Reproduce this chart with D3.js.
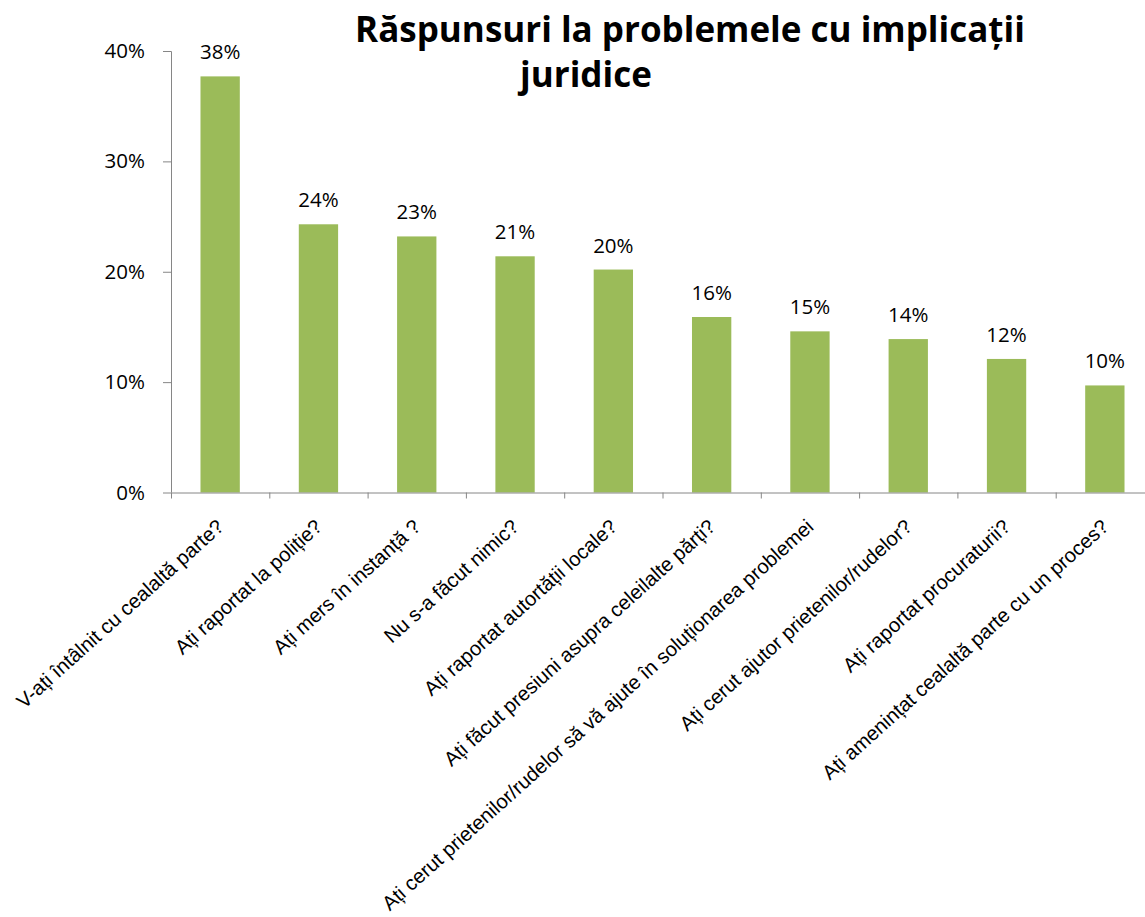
<!DOCTYPE html>
<html>
<head>
<meta charset="utf-8">
<script src="https://cdn.jsdelivr.net/npm/d3@7"></script>
<style>
  body { margin: 0; background: #fff; }
  .axis path, .axis line { stroke: #868686; }
</style>
</head>
<body>
<div id="chart"></div>
<script>
// Data
const categories = [
  "V-ați întâlnit cu cealaltă parte?",
  "Ați raportat la poliție?",
  "Ați mers în instanță ?",
  "Nu s-a făcut nimic?",
  "Ați raportat autortății locale?",
  "Ați făcut presiuni asupra celeilalte părți?",
  "Ați cerut prietenilor/rudelor să vă ajute în soluționarea problemei",
  "Ați cerut ajutor prietenilor/rudelor?",
  "Ați raportat procuraturii?",
  "Ați amenințat cealaltă parte cu un proces?"
];
const values = [37.7, 24.3, 23.2, 21.4, 20.2, 15.9, 14.6, 13.9, 12.1, 9.7];
const valueLabels = ["38%", "24%", "23%", "21%", "20%", "16%", "15%", "14%", "12%", "10%"];
const yTicks = [0, 10, 20, 30, 40];
const titleLines = ["Răspunsuri la problemele cu implicații", "juridice"];

const W = 1145, H = 917;
const margin = { top: 51, left: 171 };
const plotH = 441.5;
const plotW = 983;

const svg = d3.select("#chart").append("svg")
  .attr("width", W)
  .attr("height", H);

const g = svg.append("g")
  .attr("transform", "translate(" + margin.left + "," + margin.top + ")");

const x = d3.scaleBand().domain(categories).range([0, plotW]).paddingInner(0.6).paddingOuter(0.3);
const y = d3.scaleLinear().domain([0, 40]).range([plotH, 0]);

// bars
g.selectAll(".bar")
  .data(values)
  .enter().append("rect")
  .attr("class", "bar")
  .attr("x", (d, i) => x(categories[i]))
  .attr("y", d => y(d))
  .attr("width", x.bandwidth())
  .attr("height", d => plotH - y(d))
  .attr("fill", "#9BBB59");

// value labels
g.selectAll(".vlabel")
  .data(values)
  .enter().append("text")
  .attr("class", "vlabel")
  .attr("x", (d, i) => x(categories[i]) + x.bandwidth() / 2)
  .attr("y", d => y(d) - 17)
  .attr("text-anchor", "middle")
  .style("font-family", "'Open Sans', sans-serif")
  .style("font-size", "20.5px")
  .style("fill", "#000")
  .text((d, i) => valueLabels[i]);

// y axis
const yAxis = d3.axisLeft(y)
  .tickValues(yTicks)
  .tickSize(8)
  .tickPadding(18)
  .tickFormat(d => d + "%");

g.append("g")
  .attr("class", "axis y")
  .call(yAxis)
  .call(a => a.select(".domain").attr("d", "M-8,0.5H0.5V" + plotH))
  .selectAll("text")
  .style("font-family", "'Open Sans', sans-serif")
  .style("font-size", "20.5px")
  .style("fill", "#000");

// x axis: line plus boundary ticks
const xa = g.append("g").attr("class", "axis x")
  .attr("transform", "translate(0," + plotH + ")");
xa.append("line")
  .attr("x1", 0).attr("x2", plotW)
  .attr("y1", 0.5).attr("y2", 0.5)
  .attr("stroke", "#868686");
xa.selectAll(".xt")
  .data(d3.range(categories.length + 1))
  .enter().append("line")
  .attr("x1", i => x.step() * i + 0.5)
  .attr("x2", i => x.step() * i + 0.5)
  .attr("y1", 0).attr("y2", 6)
  .attr("stroke", "#868686");

// category labels, rotated
xa.selectAll(".clabel")
  .data(categories)
  .enter().append("text")
  .attr("class", "clabel")
  .attr("text-anchor", "end")
  .attr("transform", d => "translate(" + (x(d) + x.bandwidth() / 2 + 5) + ",36) rotate(-42)")
  .style("font-family", "'Liberation Sans', Arial, sans-serif")
  .style("font-size", "20.2px")
  .style("fill", "#000")
  .text(d => d);

// title
svg.append("text")
  .attr("x", 690)
  .attr("y", 42)
  .attr("text-anchor", "middle")
  .style("font-family", "'Open Sans', sans-serif")
  .style("font-weight", "bold")
  .style("font-size", "35px")
  .text(titleLines[0]);
svg.append("text")
  .attr("x", 586)
  .attr("y", 87)
  .attr("text-anchor", "middle")
  .style("font-family", "'Open Sans', sans-serif")
  .style("font-weight", "bold")
  .style("font-size", "35px")
  .text(titleLines[1]);
</script>
</body>
</html>
